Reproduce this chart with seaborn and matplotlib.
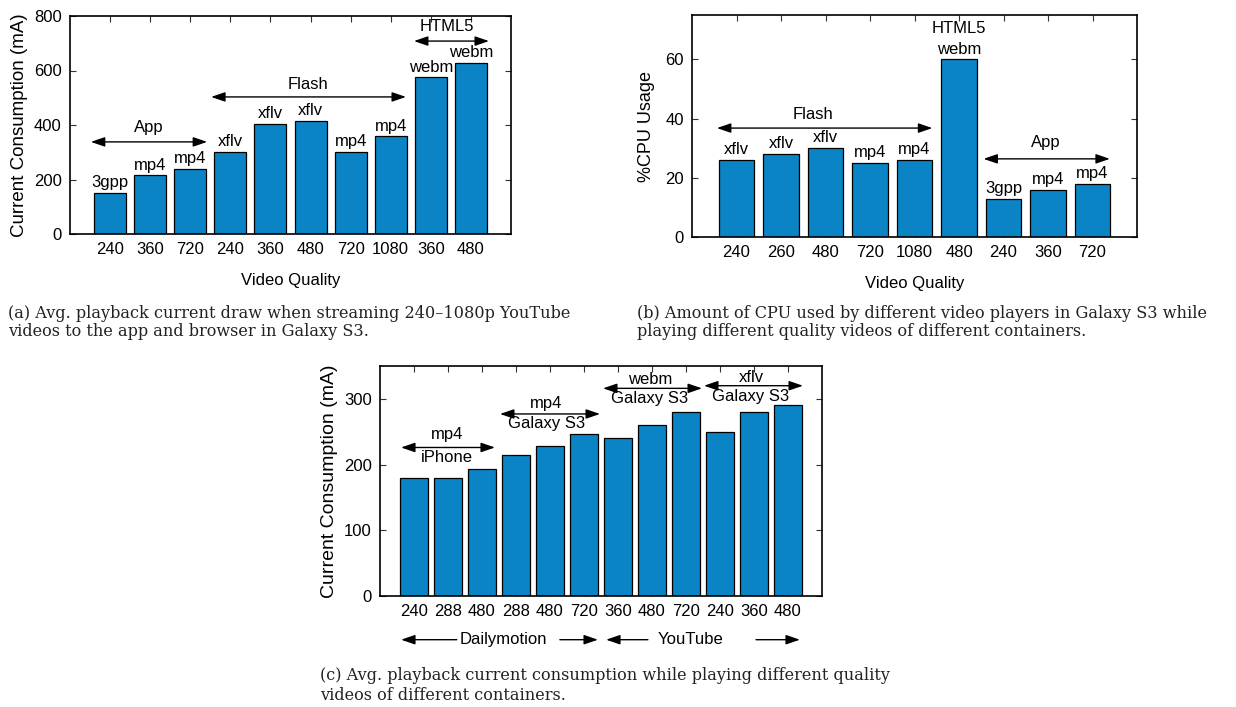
import matplotlib
matplotlib.use("Agg")
import matplotlib.pyplot as plt
import seaborn as sns
import pandas as pd

BAR_COLOR = "#0b84c6"

# (a) current draw: YouTube app vs browser players
a_quality = ["240", "360", "720", "240", "360", "480", "720", "1080", "360", "480"]
a_container = ["3gpp", "mp4", "mp4", "xflv", "xflv", "xflv", "mp4", "mp4", "webm", "webm"]
a_current = [150, 215, 240, 302, 405, 415, 302, 358, 575, 628]

# (b) CPU usage per player
b_quality = ["240", "260", "480", "720", "1080", "480", "240", "360", "720"]
b_container = ["xflv", "xflv", "xflv", "mp4", "mp4", "webm", "3gpp", "mp4", "mp4"]
b_cpu = [26, 28, 30, 25, 26, 60, 13, 16, 18]

# (c) current draw per container / device
c_quality = ["240", "288", "480", "288", "480", "720", "360", "480", "720", "240", "360", "480"]
c_current = [180, 180, 193, 214, 229, 247, 240, 260, 280, 250, 280, 290]

sns.set_theme(style="ticks")
plt.rcParams["font.family"] = ["Liberation Sans", "DejaVu Sans"]
plt.rcParams.update({"text.color": "black", "axes.labelcolor": "black",
                     "xtick.color": "black", "ytick.color": "black"})
FS = 12
CAP_FS = 11.6

fig = plt.figure(figsize=(12.36, 7.07), dpi=100)
W, H = 1236, 707


def px_axes(left, top, right, bottom):
    return fig.add_axes([left / W, 1 - bottom / H, (right - left) / W, (bottom - top) / H])


def bars(ax, values, ticklabels, ymax, yticks):
    df = pd.DataFrame({"pos": range(len(values)), "value": values})
    sns.barplot(data=df, x="pos", y="value", color=BAR_COLOR, width=0.8, saturation=1,
                edgecolor="black", linewidth=0.9, errorbar=None, ax=ax)
    ax.set_xlim(-1, len(values))
    ax.set_ylim(0, ymax)
    ax.set_xticks(range(len(values)), ticklabels)
    ax.set_yticks(yticks)
    ax.tick_params(direction="in", top=True, right=True, length=4, width=0.8,
                   labelsize=FS, pad=6, color="#333333", labelcolor="black")
    for s in ax.spines.values():
        s.set_linewidth(1.2)
        s.set_color("black")
    ax.set_xlabel("")


def group_arrow(ax, x0, x1, y):
    ax.annotate("", xy=(x0, y), xytext=(x1, y),
                arrowprops=dict(arrowstyle="<|-|>,head_length=0.7,head_width=0.24",
                                color="black", lw=1.0, shrinkA=0, shrinkB=0))


def bar_labels(ax, labels, values):
    for i, (lab, v) in enumerate(zip(labels, values)):
        if lab:
            ax.annotate(lab, (i, v), xytext=(0, 2), textcoords="offset points",
                        ha="center", va="bottom", fontsize=FS)


# ---- (a)
ax_a = px_axes(70, 16, 511, 234)
bars(ax_a, a_current, a_quality, 800, [0, 200, 400, 600, 800])
bar_labels(ax_a, a_container, a_current)
ax_a.set_ylabel("Current Consumption (mA)", fontsize=13.5, labelpad=4)
ax_a.set_xlabel("Video Quality", fontsize=FS, labelpad=11)
group_arrow(ax_a, -0.48, 2.42, 338)
ax_a.text(0.97, 390, "App", ha="center", va="center", fontsize=FS)
group_arrow(ax_a, 2.52, 7.38, 503)
ax_a.text(4.94, 548, "Flash", ha="center", va="center", fontsize=FS)
group_arrow(ax_a, 7.58, 9.45, 708)
ax_a.text(8.4, 760, "HTML5", ha="center", va="center", fontsize=FS, clip_on=False)

# ---- (b)
ax_b = px_axes(692, 15, 1137, 237)
bars(ax_b, b_cpu, b_quality, 75, [0, 20, 40, 60])
bar_labels(ax_b, b_container, b_cpu)
ax_b.text(5, 70.3, "HTML5", ha="center", va="center", fontsize=FS)
ax_b.set_ylabel("%CPU Usage", fontsize=13, labelpad=7)
ax_b.set_xlabel("Video Quality", fontsize=FS, labelpad=11)
group_arrow(ax_b, -0.44, 4.40, 36.8)
ax_b.text(1.71, 41.5, "Flash", ha="center", va="center", fontsize=FS)
group_arrow(ax_b, 5.55, 8.39, 26.4)
ax_b.text(6.96, 32, "App", ha="center", va="center", fontsize=FS)

# ---- (c)
ax_c = px_axes(380, 366, 822, 596)
bars(ax_c, c_current, c_quality, 350, [0, 100, 200, 300])
ax_c.set_ylabel("Current Consumption (mA)", fontsize=14, labelpad=4)
for x0, x1, y, top, bottom, xc, ytop, ybot in [
    (-0.38, 2.38, 226, "mp4", "iPhone", 0.97, 245, 210),
    (2.53, 5.47, 277, "mp4", "Galaxy S3", 3.9, 293, 262),
    (5.56, 8.47, 316, "webm", "Galaxy S3", 6.94, 330, 300),
    (8.53, 11.44, 320, "xflv", "Galaxy S3", 9.91, 333, 304),
]:
    group_arrow(ax_c, x0, x1, y)
    ax_c.text(xc, ytop, top, ha="center", va="center", fontsize=FS)
    ax_c.text(xc, ybot, bottom, ha="center", va="center", fontsize=FS)

# site arrows under the x axis
tr = ax_c.get_xaxis_transform()
ybelow = -0.19
for name, xc, left_tail, left_head, right_tail, right_head in [
    ("Dailymotion", 2.62, 1.26, -0.38, 4.29, 5.41),
    ("YouTube", 8.12, 6.88, 5.65, 10.06, 11.35),
]:
    ax_c.text(xc, ybelow, name, transform=tr, ha="center", va="center", fontsize=FS)
    for tail, head in [(left_tail, left_head), (right_tail, right_head)]:
        ax_c.annotate("", xy=(head, ybelow), xytext=(tail, ybelow), xycoords=tr, textcoords=tr,
                      arrowprops=dict(arrowstyle="-|>,head_length=0.7,head_width=0.24",
                                      color="black", lw=1.0, shrinkA=0, shrinkB=0))

# captions
cap = dict(fontsize=CAP_FS, family=["DejaVu Serif"], va="center", ha="left", color="#222222")
fig.text(8 / W, 1 - 313 / H, "(a) Avg. playback current draw when streaming 240\u20131080p YouTube", **cap)
fig.text(8 / W, 1 - 332 / H, "videos to the app and browser in Galaxy S3.", **cap)
fig.text(637 / W, 1 - 313 / H, "(b) Amount of CPU used by different video players in Galaxy S3 while", **cap)
fig.text(637 / W, 1 - 332 / H, "playing different quality videos of different containers.", **cap)
fig.text(320 / W, 1 - 676 / H, "(c) Avg. playback current consumption while playing different quality", **cap)
fig.text(320 / W, 1 - 696 / H, "videos of different containers.", **cap)

fig.savefig("out.png", dpi=100)
